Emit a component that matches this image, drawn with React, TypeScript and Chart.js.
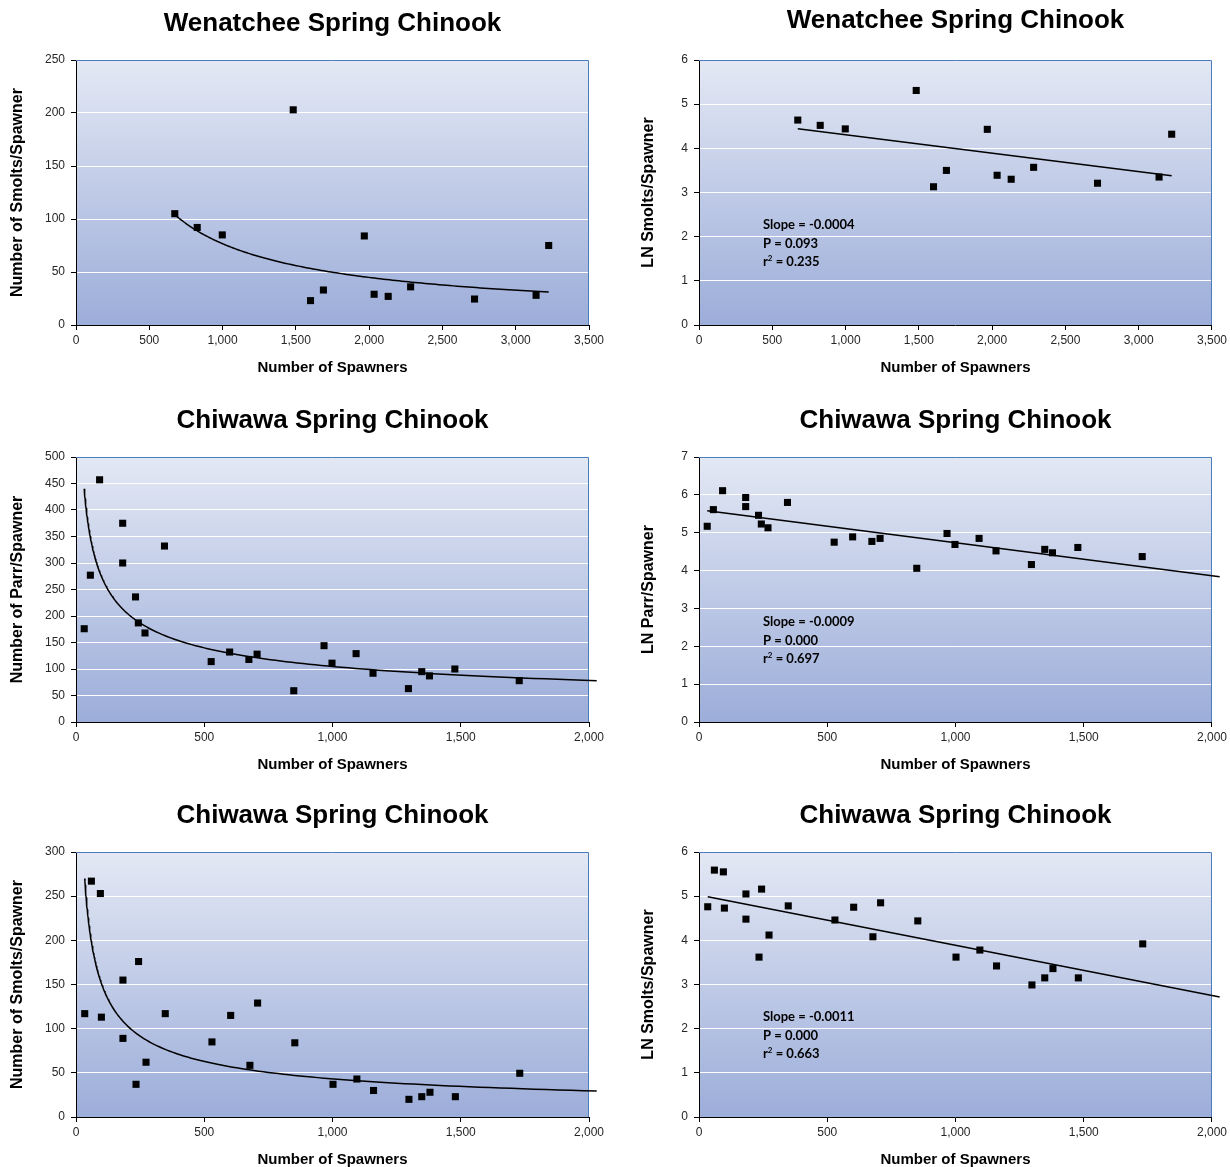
import React, { useEffect, useRef } from 'react';
import { Chart, registerables } from 'chart.js';

Chart.register(...registerables);

// ---------- Data ----------
const wenSpawners = [674, 827, 998, 1482, 1600, 1688, 1967, 2034, 2130, 2283, 2719, 3139, 3225];
const wenSmoltsPerSpawner = [105, 92, 85, 203, 23, 33, 84, 29, 27, 36, 24.5, 28, 75];
const wenLnSmoltsPerSpawner = [4.64, 4.52, 4.44, 5.31, 3.13, 3.5, 4.43, 3.39, 3.3, 3.57, 3.21, 3.35, 4.32];

const chiParrSpawners = [32, 56, 92, 182, 182, 232, 243, 269, 345, 527, 599, 674, 706, 849, 967, 998, 1092, 1158, 1296, 1348, 1378, 1477, 1728];
const chiParrPerSpawner = [176, 277, 457, 375, 300, 236, 187, 168, 332, 114, 132, 118, 128, 59, 144, 111, 129, 92, 63, 95, 87, 100, 78];
const chiLnParrPerSpawner = [5.17, 5.61, 6.11, 5.93, 5.69, 5.46, 5.23, 5.13, 5.8, 4.75, 4.89, 4.77, 4.85, 4.06, 4.98, 4.69, 4.85, 4.52, 4.16, 4.56, 4.47, 4.61, 4.37];

const chiSmoltSpawners = [34, 60, 95, 99, 183, 183, 234, 244, 273, 348, 530, 603, 678, 708, 853, 1002, 1095, 1160, 1298, 1348, 1380, 1479, 1730];
const chiSmoltsPerSpawner = [117, 267, 253, 113, 155, 89, 37, 176, 62, 117, 85, 115, 58.5, 129, 84, 37, 43, 30, 20, 23, 28, 23, 49.5];
const chiLnSmoltsPerSpawner = [4.76, 5.59, 5.55, 4.73, 5.05, 4.48, 3.62, 5.16, 4.12, 4.78, 4.46, 4.75, 4.08, 4.85, 4.44, 3.62, 3.78, 3.42, 2.99, 3.15, 3.36, 3.15, 3.92];

// Power trendline coefficients y = a * x^b
const wenPowerFit = [15985, -0.773];
const chiParrPowerFit = [1867, -0.417];
const chiSmoltPowerFit = [1825, -0.542];

// Regression annotation texts: [slope, P, r²]
const wenLnStats = ['-0.0004', '0.093', '0.235'];
const chiParrLnStats = ['-0.0009', '0.000', '0.697'];
const chiSmoltLnStats = ['-0.0011', '0.000', '0.663'];

// Axis ranges
const wenXMax = 3500;
const chiXMax = 2000;
const xStep = 500;
const chiTrendEnd = 2030;

// ---------- Helpers ----------
function linFit(xs: number[], ys: number[]) {
  const n = xs.length;
  const mx = xs.reduce((a, b) => a + b, 0) / n;
  const my = ys.reduce((a, b) => a + b, 0) / n;
  let sxy = 0;
  let sxx = 0;
  for (let i = 0; i < n; i++) {
    sxy += (xs[i] - mx) * (ys[i] - my);
    sxx += (xs[i] - mx) * (xs[i] - mx);
  }
  const b = sxy / sxx;
  return { a: my - b * mx, b };
}

function trendPoints(xs: number[], ys: number[], x1: number, power?: number[]) {
  const x0 = Math.min(...xs);
  const pts: { x: number; y: number }[] = [];
  if (!power) {
    const f = linFit(xs, ys);
    pts.push({ x: x0, y: f.a + f.b * x0 });
    pts.push({ x: x1, y: f.a + f.b * x1 });
    return pts;
  }
  const N = 160;
  for (let i = 0; i <= N; i++) {
    const x = x0 * Math.pow(x1 / x0, i / N);
    pts.push({ x, y: power[0] * Math.pow(x, power[1]) });
  }
  return pts;
}

type PanelSpec = {
  title: string;
  yTitle: string;
  xs: number[];
  ys: number[];
  power?: number[];
  trendEnd: number;
  xMax: number;
  yMax: number;
  yStep: number;
  stats?: string[];
  col: 0 | 1;
  top: number;
  titleOffset: number;
};

const CW = 615;
const CH = 390;
const FONT = '"Liberation Sans", Arial, Helvetica, sans-serif';

const panels: PanelSpec[] = [
  { title: 'Wenatchee Spring Chinook', yTitle: 'Number of Smolts/Spawner', xs: wenSpawners, ys: wenSmoltsPerSpawner, power: wenPowerFit, trendEnd: Math.max(...wenSpawners), xMax: wenXMax, yMax: 250, yStep: 50, col: 0, top: 0, titleOffset: 36 },
  { title: 'Wenatchee Spring Chinook', yTitle: 'LN Smolts/Spawner', xs: wenSpawners, ys: wenLnSmoltsPerSpawner, trendEnd: Math.max(...wenSpawners), xMax: wenXMax, yMax: 6, yStep: 1, stats: wenLnStats, col: 1, top: 0, titleOffset: 39 },
  { title: 'Chiwawa Spring Chinook', yTitle: 'Number of Parr/Spawner', xs: chiParrSpawners, ys: chiParrPerSpawner, power: chiParrPowerFit, trendEnd: chiTrendEnd, xMax: chiXMax, yMax: 500, yStep: 50, col: 0, top: 397, titleOffset: 36 },
  { title: 'Chiwawa Spring Chinook', yTitle: 'LN Parr/Spawner', xs: chiParrSpawners, ys: chiLnParrPerSpawner, trendEnd: chiTrendEnd, xMax: chiXMax, yMax: 7, yStep: 1, stats: chiParrLnStats, col: 1, top: 397, titleOffset: 36 },
  { title: 'Chiwawa Spring Chinook', yTitle: 'Number of Smolts/Spawner', xs: chiSmoltSpawners, ys: chiSmoltsPerSpawner, power: chiSmoltPowerFit, trendEnd: chiTrendEnd, xMax: chiXMax, yMax: 300, yStep: 50, col: 0, top: 792, titleOffset: 36 },
  { title: 'Chiwawa Spring Chinook', yTitle: 'LN Smolts/Spawner', xs: chiSmoltSpawners, ys: chiLnSmoltsPerSpawner, trendEnd: chiTrendEnd, xMax: chiXMax, yMax: 6, yStep: 1, stats: chiSmoltLnStats, col: 1, top: 792, titleOffset: 36 },
];

function Panel({ spec }: { spec: PanelSpec }) {
  const ref = useRef<HTMLCanvasElement>(null);

  useEffect(() => {
    if (!ref.current) return;
    const areaLeft = spec.col === 0 ? 76 : 84;
    const areaRight = spec.col === 0 ? 589 : 598;
    const areaTop = 60;
    const areaBottom = 325;
    const padLeft = spec.col === 0 ? 4 : 20;

    const bgPlugin = {
      id: 'plotBg',
      beforeDraw(chart: any) {
        const { ctx, chartArea: a } = chart;
        const g = ctx.createLinearGradient(0, a.top, 0, a.bottom);
        g.addColorStop(0, '#e3e8f4');
        g.addColorStop(1, '#9cadd9');
        ctx.save();
        ctx.fillStyle = g;
        ctx.fillRect(a.left, a.top, a.right - a.left, a.bottom - a.top);
        ctx.restore();
      },
      beforeDatasetsDraw(chart: any) {
        const { ctx, chartArea: a } = chart;
        ctx.save();
        ctx.strokeStyle = '#4a7ebb';
        ctx.lineWidth = 1;
        ctx.beginPath();
        ctx.moveTo(a.left, a.top + 0.5);
        ctx.lineTo(a.right - 0.5, a.top + 0.5);
        ctx.lineTo(a.right - 0.5, a.bottom);
        ctx.stroke();
        ctx.restore();
      },
      afterDraw(chart: any) {
        const { ctx, chartArea: a } = chart;
        ctx.save();
        ctx.fillStyle = '#000';
        ctx.font = `bold 26px ${FONT}`;
        ctx.textAlign = 'center';
        ctx.textBaseline = 'middle';
        ctx.fillText(spec.title, (a.left + a.right) / 2, a.top - spec.titleOffset);
        if (spec.stats) {
          const sf = '"Lato", "Open Sans", sans-serif';
          const x = a.left + 64;
          ctx.textAlign = 'left';
          ctx.font = `bold 13px ${sf}`;
          ctx.fillText(`Slope = ${spec.stats[0]}`, x, a.top + 165);
          ctx.fillText(`P = ${spec.stats[1]}`, x, a.top + 184);
          const y3 = a.top + 202;
          ctx.fillText('r', x, y3);
          const rw = ctx.measureText('r').width;
          ctx.font = `bold 8px ${sf}`;
          ctx.fillText('2', x + rw, y3 - 4);
          const sw = ctx.measureText('2').width;
          ctx.font = `bold 13px ${sf}`;
          ctx.fillText(` = ${spec.stats[2]}`, x + rw + sw, y3);
        }
        ctx.restore();
      },
    };

    const chart = new Chart(ref.current, {
      type: 'scatter',
      data: {
        datasets: [
          {
            data: spec.xs.map((x, i) => ({ x, y: spec.ys[i] })),
            pointStyle: 'rect',
            pointRadius: 5,
            pointHoverRadius: 5,
            backgroundColor: '#000',
            borderColor: '#000',
            borderWidth: 0,
            showLine: false,
            order: 0,
          },
          {
            data: trendPoints(spec.xs, spec.ys, spec.trendEnd, spec.power),
            showLine: true,
            pointRadius: 0,
            pointHoverRadius: 0,
            borderColor: '#000',
            backgroundColor: '#000',
            borderWidth: 1.5,
            tension: 0,
            clip: false,
            order: 1,
          } as any,
        ],
      },
      options: {
        responsive: false,
        animation: false,
        devicePixelRatio: 1,
        layout: { padding: { left: padLeft, right: CW - areaRight, top: areaTop, bottom: 0 } },
        plugins: {
          legend: { display: false },
          tooltip: { enabled: false },
          title: { display: false },
        },
        font: { family: FONT },
        scales: {
          x: {
            type: 'linear',
            min: 0,
            max: spec.xMax,
            afterFit: (s: any) => {
              s.height = CH - areaBottom;
            },
            ticks: {
              stepSize: xStep,
              autoSkip: false,
              maxRotation: 0,
              padding: 3,
              color: '#262626',
              font: { family: FONT, size: 12 },
              callback: (v: any) => Number(v).toLocaleString('en-US'),
            },
            grid: { drawOnChartArea: false, tickColor: '#000', tickLength: 5 },
            border: { color: '#000', width: 1 },
            title: {
              display: true,
              text: 'Number of Spawners',
              color: '#000',
              font: { family: FONT, size: 15, weight: 'bold' },
              padding: { top: 0, bottom: 13 },
            },
          },
          y: {
            type: 'linear',
            min: 0,
            max: spec.yMax,
            afterFit: (s: any) => {
              s.width = areaLeft - padLeft;
            },
            ticks: {
              stepSize: spec.yStep,
              autoSkip: false,
              padding: 6,
              color: '#262626',
              font: { family: FONT, size: 12 },
            },
            grid: { color: '#ffffff', lineWidth: 1, tickColor: '#000', tickLength: 5 },
            border: { color: '#000', width: 1 },
            title: {
              display: true,
              text: spec.yTitle,
              color: '#000',
              font: { family: FONT, size: 16, weight: 'bold' },
              padding: { top: 4.4, bottom: 0 },
            },
          },
        },
      } as any,
      plugins: [bgPlugin],
    });
    return () => chart.destroy();
  }, [spec]);

  return (
    <div style={{ position: 'absolute', left: spec.col * CW, top: spec.top, width: CW, height: CH }}>
      <canvas ref={ref} width={CW} height={CH} style={{ display: 'block' }} />
    </div>
  );
}

export default function App() {
  return (
    <div style={{ position: 'absolute', left: 0, top: 0, width: 1230, height: 1167, overflow: 'hidden', background: '#fff' }}>
      {panels.map((p, i) => (
        <Panel key={i} spec={p} />
      ))}
    </div>
  );
}
